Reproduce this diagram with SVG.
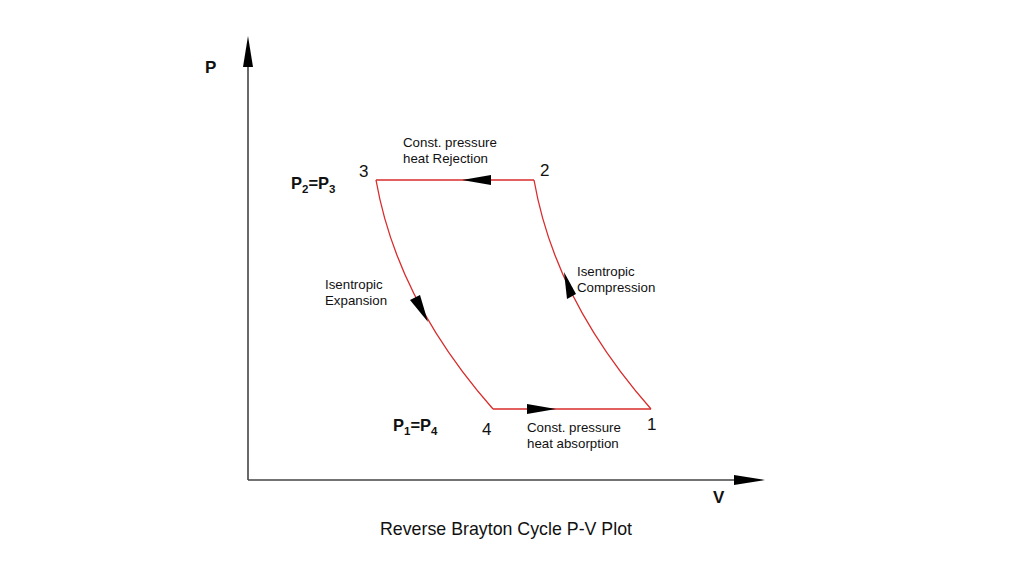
<svg xmlns="http://www.w3.org/2000/svg" width="1024" height="576" viewBox="0 0 1024 576">
<style>
text{font-family:"Liberation Sans",Arial,sans-serif;fill:#111}
.lbl{font-size:13.3px}
.num{font-size:17px}
.b{font-weight:bold;font-size:16.5px}
.ax-l{font-weight:bold;font-size:17px}
.sub{font-size:11.5px;font-weight:bold}
.cyc{fill:none;stroke:#d92b2b;stroke-width:1.3}
.ax{stroke:#444;stroke-width:1.6;fill:none}
.ah{fill:#000}
</style>
<rect width="1024" height="576" fill="#fff"/>
<g id="axes">
<line class="ax" x1="248" y1="480" x2="248" y2="62"/>
<polygon class="ah" points="248,36 243,67 253,67"/>
<line class="ax" x1="248" y1="480" x2="740" y2="480"/>
<polygon class="ah" points="765,480 734,475 734,485"/>
<text x="205" y="73" class="ax-l">P</text>
<text x="713" y="503" class="ax-l">V</text>
</g>
<g id="connectors">
<line class="cyc" x1="534" y1="180" x2="376" y2="180"/>
<path class="cyc" d="M376,180 Q397,300 493,409"/>
<line class="cyc" x1="493" y1="409" x2="651" y2="409"/>
<path class="cyc" d="M651,409 Q555,300 534,180"/>
<polygon class="ah" points="462,180 491,175 491,185"/>
<polygon class="ah" points="556,409 527,404 527,414"/>
<polygon class="ah" points="564,272 567,299 576,294"/>
<polygon class="ah" points="428,322 410,300 420,295"/>
</g>
<g id="node-2"><text x="540" y="176" class="num">2</text></g>
<g id="node-3"><text x="359" y="177" class="num">3</text></g>
<g id="node-1"><text x="647" y="430" class="num">1</text></g>
<g id="node-4"><text x="482" y="435" class="num">4</text></g>
<g id="label-p23"><text x="291" y="189" class="b">P<tspan class="sub" dy="4">2</tspan><tspan dy="-4">=P</tspan><tspan class="sub" dy="4">3</tspan></text></g>
<g id="label-p14"><text x="393" y="431" class="b">P<tspan class="sub" dy="4">1</tspan><tspan dy="-4">=P</tspan><tspan class="sub" dy="4">4</tspan></text></g>
<g id="label-rejection"><text x="403" y="147" class="lbl">Const. pressure</text><text x="403" y="163" class="lbl">heat Rejection</text></g>
<g id="label-compression"><text x="577" y="276" class="lbl">Isentropic</text><text x="577" y="292" class="lbl">Compression</text></g>
<g id="label-expansion"><text x="325" y="289" class="lbl">Isentropic</text><text x="325" y="305" class="lbl">Expansion</text></g>
<g id="label-absorption"><text x="527" y="432" class="lbl">Const. pressure</text><text x="527" y="448" class="lbl">heat absorption</text></g>
<g id="title"><text x="506" y="535" text-anchor="middle" style="font-size:17.8px">Reverse Brayton Cycle P-V Plot</text></g>
</svg>
